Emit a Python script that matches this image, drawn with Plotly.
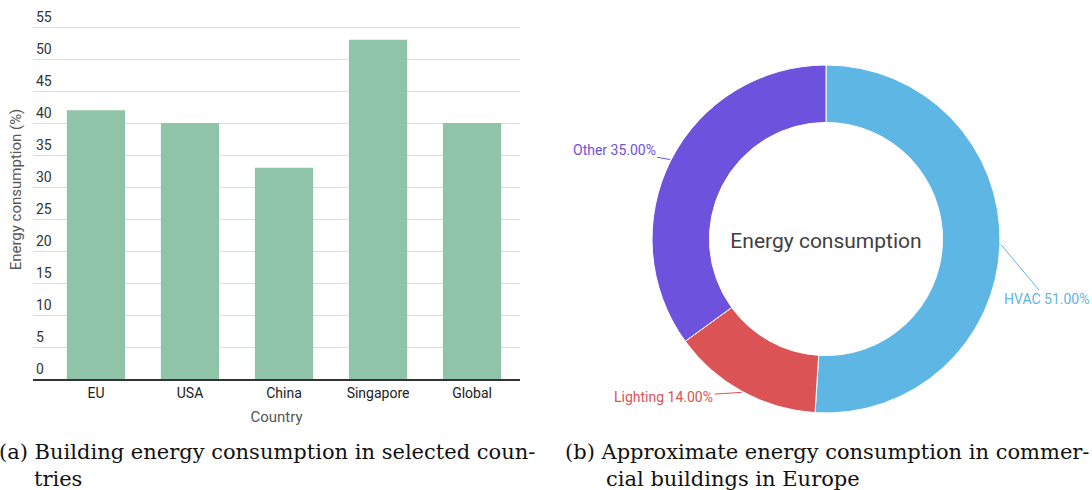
import math
import plotly.graph_objects as go

# ---------------- data ----------------
countries = ["EU", "USA", "China", "Singapore", "Global"]
consumption = [42, 40, 33, 53, 40]
y_ticks = [0, 5, 10, 15, 20, 25, 30, 35, 40, 45, 50, 55]

end_uses = ["HVAC", "Lighting", "Other"]
end_use_share = [51, 14, 35]
end_use_colors = ["#5EB6E4", "#DC5356", "#6C52DC"]

caption_a = ["(a) Building energy consumption in selected coun-", "tries"]
caption_b = ["(b) Approximate energy consumption in commer-", "cial buildings in Europe"]

# ---------------- layout geometry (px) ----------------
W, H = 1092, 490
FONT = "Roboto"


def px_x(v):
    return v / W


def px_y(v):
    return 1 - v / H


fig = go.Figure()

fig.add_trace(go.Bar(
    x=countries, y=consumption,
    marker=dict(color="#8FC4A8", line=dict(width=0)),
    showlegend=False, hoverinfo="x+y",
    xaxis="x", yaxis="y",
))

# donut geometry
cx, cy, R = 826, 239, 174
fig.add_trace(go.Pie(
    labels=end_uses, values=end_use_share,
    hole=0.67, sort=False, direction="clockwise", rotation=0,
    marker=dict(colors=end_use_colors, line=dict(color="white", width=1)),
    textinfo="none", showlegend=False,
    domain=dict(x=[px_x(cx - R), px_x(cx + R)], y=[px_y(cy + R), px_y(cy - R)]),
    title=dict(text="Energy consumption", position="middle center",
               font=dict(family=FONT, size=21, color="#3f3f3f")),
))

# outside labels with leader lines, anchored at slice mid-angles
offsets = {"HVAC": (46, 55), "Lighting": (-78, 5), "Other": (-56, -10)}
total = sum(end_use_share)
acc = 0
annotations = []
for lab, val, col in zip(end_uses, end_use_share, end_use_colors):
    mid = (acc + val / 2) / total * 2 * math.pi
    acc += val
    px_ = cx + (R + 1) * math.sin(mid)
    py_ = cy - (R + 1) * math.cos(mid)
    ax, ay = offsets[lab]
    annotations.append(dict(
        x=px_x(px_), y=px_y(py_), xref="paper", yref="paper",
        text=f"{lab} {val / total * 100:.2f}%",
        showarrow=True, arrowhead=0, arrowwidth=1, arrowcolor=col,
        ax=ax, ay=ay, font=dict(family=FONT, size=14, color=col),
    ))

# captions
cap_font = dict(family="DejaVu Serif", size=21, color="#111111")
for (txt, x, y) in [(caption_a[0], -3, 452), (caption_a[1], 32, 479),
                    (caption_b[0], 563, 452), (caption_b[1], 604, 479)]:
    annotations.append(dict(text=txt, x=px_x(x), y=px_y(y), xref="paper", yref="paper",
                            xanchor="left", yanchor="middle", showarrow=False, font=cap_font))

# y axis: 0 at px 379, 55 at px 27; extend range to the top of the page so the top label fits inside
unit = (379 - 27) / 55
y_top = 379 / unit
fig.update_layout(
    width=W, height=H,
    margin=dict(l=0, r=0, t=0, b=0),
    paper_bgcolor="white", plot_bgcolor="white",
    font=dict(family=FONT),
    bargap=0.38,
    xaxis=dict(
        domain=[px_x(33), px_x(520)], range=[-0.67, 4.51],
        showline=True, linecolor="#333333", linewidth=2,
        showgrid=False, ticks="", tickfont=dict(family=FONT, size=14, color="#222222"),
        title=dict(text="Country", font=dict(family=FONT, size=15, color="#555555"), standoff=12),
    ),
    yaxis=dict(
        domain=[px_y(379), 1], range=[0, y_top],
        tickvals=y_ticks, ticklabelposition="inside top",
        tickfont=dict(family=FONT, size=14, color="#333333"),
        gridcolor="#DDDDDD", gridwidth=1, zeroline=False, showline=False, ticks="",
        title=dict(text="Energy consumption (%)", font=dict(family=FONT, size=15, color="#555555"), standoff=10),
    ),
    annotations=annotations,
)

fig.write_html("out.html", config={"displayModeBar": False},
               post_script="document.body.style.margin='0';document.body.style.overflow='hidden';")
